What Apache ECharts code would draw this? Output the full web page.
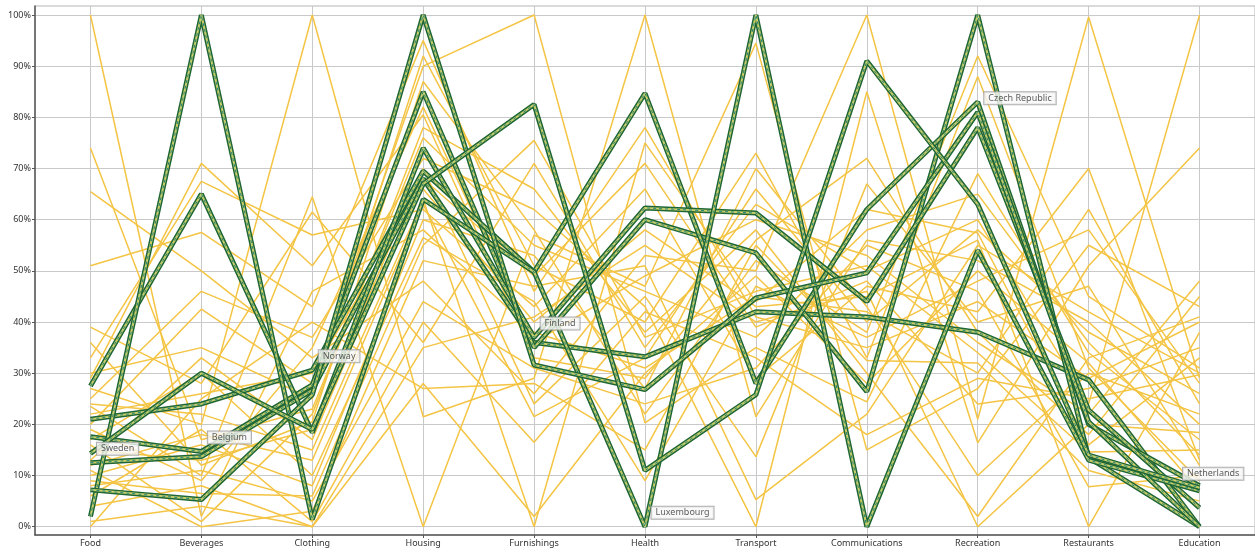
<!DOCTYPE html>
<html>
<head>
<meta charset="utf-8">
<script src="https://cdn.jsdelivr.net/npm/echarts@6/dist/echarts.min.js"></script>
<style>
  html, body { margin: 0; padding: 0; background: #fff; }
  #chart { width: 1255px; height: 553px; }
</style>
</head>
<body>
<div id="chart"></div>
<script>
const categories = ['Food', 'Beverages', 'Clothing', 'Housing', 'Furnishings', 'Health',
  'Transport', 'Communications', 'Recreation', 'Restaurants', 'Education']
const yTicks = [0, 10, 20, 30, 40, 50, 60, 70, 80, 90, 100]

// highlighted countries, % of range per category
const sweden = [12.5, 13.7, 26.7, 68, 36, 33.2, 42, 41, 38, 28.7, 0]
const belgium = [17.6, 14.7, 27.7, 85, 35, 60, 53.5, 26.4, 100, 13.5, 0]
const norway = [21, 24, 30.6, 69.5, 49.8, 84.7, 28, 62, 83, 20, 8]
const finland = [27.5, 65, 18.4, 74, 37, 62.3, 61.3, 44, 78, 22.8, 3.7]
const luxembourg = [2, 100, 1.4, 64, 49.8, 0, 100, 0, 54, 13, 7]
const czechRepublic = [7.2, 5.3, 25.8, 100, 31.6, 26.8, 44.7, 49.6, 81, 20.5, 0]
const netherlands = [14.3, 30, 19, 67, 82.5, 11, 25.8, 91, 63, 14, 7.6]

// [name, values, index of the point that carries the label]
const highlighted = [
  ['Sweden', sweden, 0],
  ['Belgium', belgium, 1],
  ['Norway', norway, 2],
  ['Finland', finland, 4],
  ['Luxembourg', luxembourg, 5],
  ['Czech Republic', czechRepublic, 8],
  ['Netherlands', netherlands, 10]
]

// the other countries
const otherRows = [
  [100, 2, 46, 58, 38, 31, 45, 42, 30, 62, 24],
  [74, 17, 23, 76, 55, 46, 37, 58, 65, 36, 14],
  [65.5, 50, 33, 48, 26, 53, 50, 100, 21, 99.6, 29],
  [51, 57.5, 43, 95, 46, 78, 41, 35, 44, 29, 40],
  [39, 28, 61.5, 36, 71, 35, 63, 50, 60, 24, 100],
  [36, 12, 20.5, 87, 58, 22, 52, 38, 92, 45, 31],
  [33, 67.5, 57, 62, 43, 66, 29, 47, 42, 70, 13],
  [30, 35, 25, 92, 51, 40, 73, 33, 88, 31, 9],
  [29, 71, 51, 80.5, 33, 29, 56, 72, 38, 18, 45],
  [27, 20, 100, 21.5, 29, 100, 21.5, 56, 52, 40, 20],
  [25, 46, 37, 72, 62, 43, 0, 85, 16.4, 51, 74],
  [24, 22, 15, 64, 0, 75, 44, 62, 57.4, 16, 33],
  [23.5, 10, 64.5, 0, 57, 47, 94.5, 15, 27, 55, 43],
  [22, 26, 30, 66, 40, 58, 43, 45, 56, 0, 38],
  [20, 42.5, 28, 90, 100, 20.3, 35, 24.4, 69, 34, 17],
  [19, 9, 35, 82, 36, 49, 60, 53, 36, 22, 48],
  [17, 30, 10, 56.5, 44, 9, 47, 37, 48, 58, 28],
  [16, 1, 22, 78, 66, 38, 58, 30, 2, 33, 41],
  [15, 13, 19, 70, 24, 45, 13.7, 67, 40, 47, 12],
  [13, 33, 17, 68, 49, 71, 39, 48, 24, 27, 35],
  [12, 18, 13, 63, 21.5, 33, 66, 40, 58, 38, 26],
  [11, 0, 3, 52, 47, 51, 5.3, 22, 55, 42, 30],
  [10, 16, 8, 60, 53, 27, 70, 43, 10, 30, 22],
  [9, 6.5, 6, 55, 75.5, 37, 46, 51, 34, 14.6, 15],
  [8, 11, 5, 44, 31, 24, 31, 55, 46, 7.8, 10],
  [6, 19, 1, 40, 16.5, 42, 33, 18, 29, 25, 29.7],
  [4, 8, 0, 35, 41, 55, 40, 46, 0, 20, 18.4],
  [1, 4, 0, 28, 2, 30, 49, 28, 50, 32, 7],
  [0, 25, 40, 27, 28, 15, 55, 32.5, 32, 11, 5]
]

const toPoints = vals => vals.map((v, i) => [i, v])
const catIdx = categories.map((c, i) => i)

const series = []
otherRows.forEach((row, k) => {
  series.push({
    type: 'line', name: 'other' + k, data: toPoints(row),
    symbol: 'none', silent: true,
    lineStyle: { color: '#f4c444', width: 1.5 }
  })
})
highlighted.forEach(([name, vals]) => {
  series.push({
    type: 'line', name, data: toPoints(vals), symbol: 'none', silent: true, z: 3,
    lineStyle: { color: '#1f6636', width: 5 }
  })
  series.push({
    type: 'line', name: name + '-in', data: toPoints(vals), symbol: 'none', silent: true, z: 3,
    lineStyle: { color: '#c9cf6a', width: 2 }
  })
  series.push({
    type: 'line', name: name + '-dash', data: toPoints(vals), symbol: 'none', silent: true, z: 3,
    lineStyle: { color: '#24857c', width: 1, type: [3, 3] }
  })
})
// labels, drawn last so they sit over the lines
highlighted.forEach(([name, vals, li]) => {
  const last = li === categories.length - 1
  series.push({
    type: 'scatter', name: name + '-label', silent: true, z: 10, zlevel: 1,
    symbol: 'circle', symbolSize: 1,
    itemStyle: { color: 'rgba(0,0,0,0)' },
    data: [[li, vals[li]]],
    label: {
      show: true, formatter: name, position: 'right', distance: 6,
      offset: last ? [-23, -14] : [0, -14],
      fontSize: 9, fontFamily: 'Noto Sans', color: '#333',
      backgroundColor: '#f7f7f7', borderColor: '#9a9a9a', borderWidth: 1,
      padding: [2, 4, 1, 4]
    }
  })
})

const chart = echarts.init(document.getElementById('chart'), null, { renderer: 'canvas' })
chart.setOption({
  animation: false,
  backgroundColor: '#fff',
  grid: { left: 35, right: 0, top: 6, bottom: 18, show: true, borderColor: '#b5b5b5', borderWidth: 1 },
  xAxis: {
    type: 'value', min: -0.5, max: 10.5,
    axisLine: { show: true, onZero: false, lineStyle: { color: '#555', width: 1.5 } },
    axisTick: { show: true, customValues: catIdx, length: 3, lineStyle: { color: '#555' } },
    axisLabel: {
      customValues: catIdx, formatter: v => categories[v], margin: 4,
      fontSize: 9, fontFamily: 'Noto Sans', color: '#333'
    },
    splitLine: { show: true, lineStyle: { color: '#c9c9c9', width: 1 } }
  },
  yAxis: {
    type: 'value', min: -1.62, max: 101.76,
    axisLine: { show: true, onZero: false, lineStyle: { color: '#555', width: 1.5 } },
    axisTick: { show: true, customValues: yTicks, length: 3, lineStyle: { color: '#555' } },
    axisLabel: {
      customValues: yTicks, formatter: v => v + '%', margin: 4,
      fontSize: 9, fontFamily: 'Noto Sans', color: '#333'
    },
    splitLine: { show: true, lineStyle: { color: '#c9c9c9', width: 1 } }
  },
  series
})
</script>
</body>
</html>
